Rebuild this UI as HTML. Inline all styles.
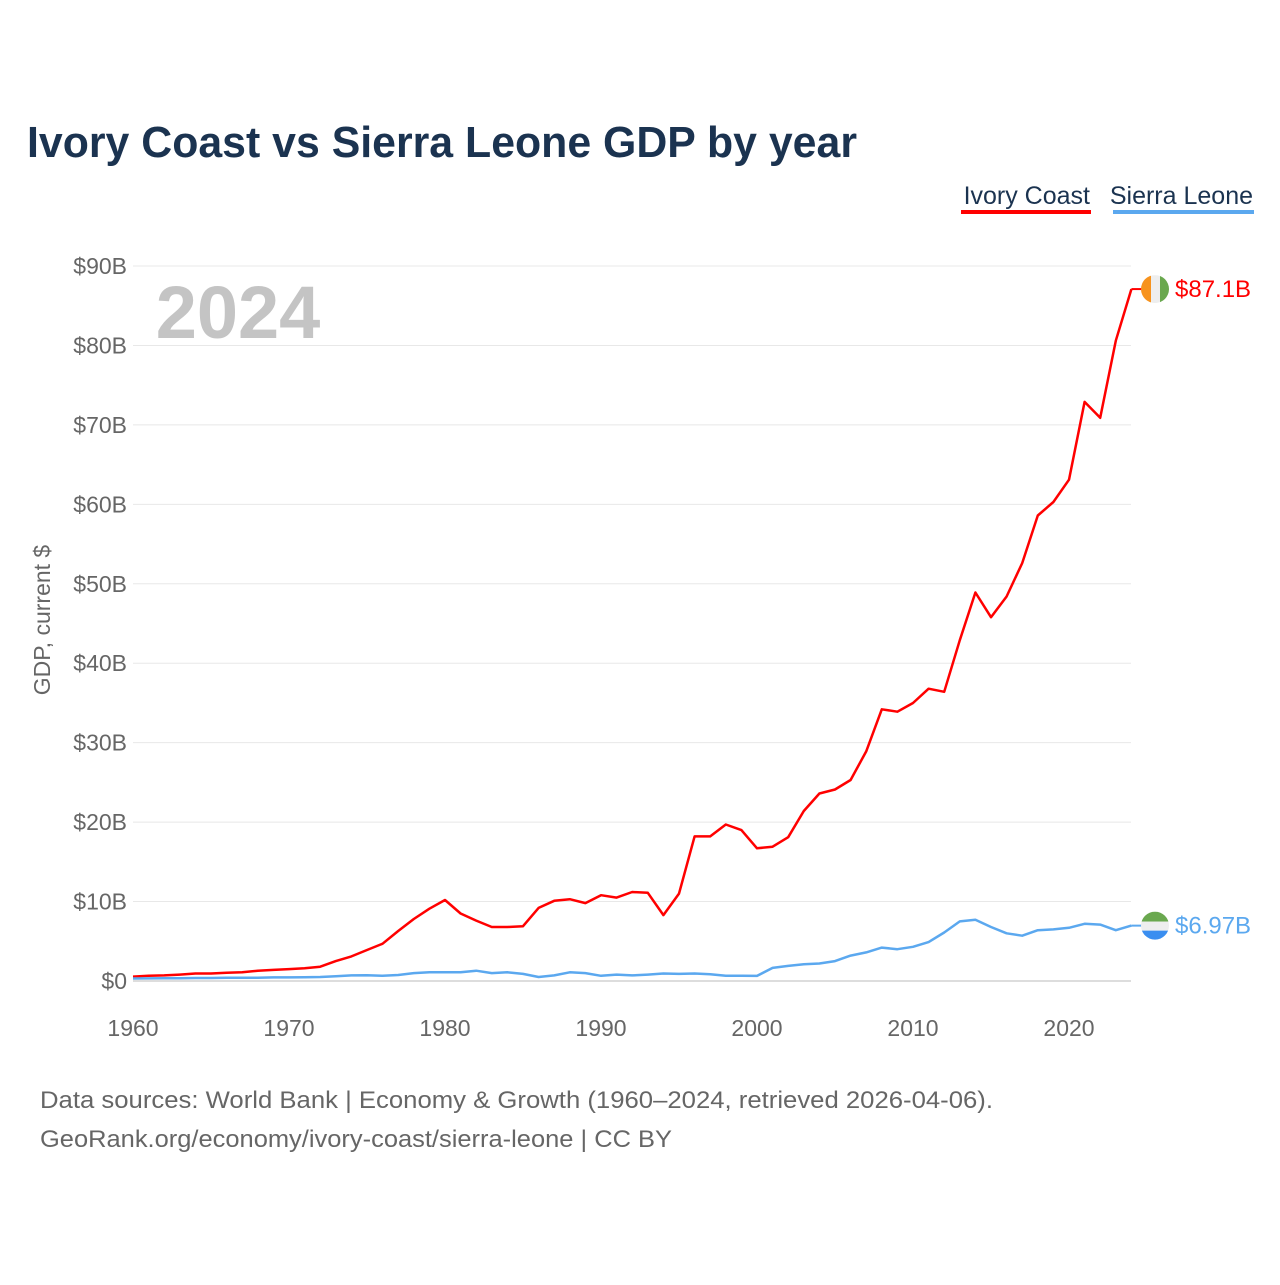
<!DOCTYPE html>
<html><head><meta charset="utf-8"><style>
body{margin:0;background:#fff;}
svg{font-family:"Liberation Sans",sans-serif;}
</style></head><body>
<svg id="chart" width="1280" height="1280">
<rect width="1280" height="1280" fill="#fff"/>
<text x="27" y="157" font-size="44" font-weight="bold" fill="#1b3350" textLength="830" lengthAdjust="spacingAndGlyphs">Ivory Coast vs Sierra Leone GDP by year</text>
<g>
<text x="1090" y="204" font-size="25" fill="#1b3350" text-anchor="end">Ivory Coast</text>
<rect x="961" y="210" width="130" height="4" fill="#ff0000"/>
</g>
<g>
<text x="1253" y="204" font-size="25" fill="#1b3350" text-anchor="end">Sierra Leone</text>
<rect x="1113" y="210" width="141" height="4" fill="#5ba8ef"/>
</g>
<text x="238" y="338" font-size="74" font-weight="bold" fill="#c4c4c4" text-anchor="middle">2024</text>
<text transform="translate(50,620) rotate(-90)" font-size="23" fill="#666" text-anchor="middle">GDP, current $</text>
<g id="grid"></g><g id="xt"></g><g id="lines"></g>
<text x="40" y="1108" font-size="24" fill="#666" textLength="953" lengthAdjust="spacingAndGlyphs">Data sources: World Bank | Economy &amp; Growth (1960–2024, retrieved 2026-04-06).</text>
<text x="40" y="1147" font-size="24" fill="#666" textLength="632" lengthAdjust="spacingAndGlyphs">GeoRank.org/economy/ivory-coast/sierra-leone | CC BY</text>
</svg>
<script>
const startYear = 1960;
const ivoryCoast = [0.55,0.65,0.7,0.8,0.95,0.95,1.05,1.1,1.3,1.4,1.5,1.6,1.8,2.5,3.1,3.9,4.7,6.3,7.8,9.1,10.2,8.5,7.6,6.8,6.8,6.9,9.2,10.1,10.3,9.8,10.8,10.5,11.2,11.1,8.3,11.0,18.2,18.2,19.7,19.0,16.7,16.9,18.1,21.4,23.6,24.1,25.3,28.9,34.2,33.9,35.0,36.8,36.4,42.9,48.9,45.8,48.4,52.6,58.6,60.3,63.1,72.9,70.9,80.6,87.1];
const sierraLeone = [0.32,0.33,0.34,0.35,0.38,0.38,0.4,0.4,0.4,0.45,0.45,0.47,0.5,0.6,0.7,0.72,0.65,0.75,1.0,1.1,1.1,1.1,1.3,1.0,1.1,0.9,0.5,0.7,1.1,1.0,0.65,0.8,0.7,0.8,0.95,0.9,0.95,0.85,0.65,0.65,0.64,1.65,1.9,2.1,2.2,2.5,3.2,3.6,4.2,4.0,4.3,4.9,6.1,7.5,7.7,6.8,6.0,5.7,6.4,6.5,6.7,7.2,7.1,6.4,6.97];
const yTicks = [0,10,20,30,40,50,60,70,80,90];
const yTickLabels = ["$0","$10B","$20B","$30B","$40B","$50B","$60B","$70B","$80B","$90B"];
const xTicks = [1960,1970,1980,1990,2000,2010,2020];
const endLabels = ["$87.1B","$6.97B"];
const NS="http://www.w3.org/2000/svg";
const x = yr => 133 + (yr-1960)*15.6;
const y = v => 981 - v*7.944;
function mk(t,a,p){const e=document.createElementNS(NS,t);for(const k in a)e.setAttribute(k,a[k]);p.appendChild(e);return e;}
const grid=document.getElementById('grid');
yTicks.forEach((v,i)=>{
 const l=mk('line',{x1:133,x2:1131,y1:y(v),y2:y(v),stroke:v===0?'#ddd':'#e8e8e8','stroke-width':v===0?2:1},grid);
 
 
 const t=mk('text',{x:127,y:y(v)+8,'font-size':23,fill:'#666','text-anchor':'end'},grid);
 t.textContent=yTickLabels[i];
 
 
});
const xt=document.getElementById('xt');
xTicks.forEach(v=>{
 const t=mk('text',{x:x(v),y:1036,'font-size':23,fill:'#666','text-anchor':'middle'},xt);
 t.textContent=v;
 
 
});
const lines=document.getElementById('lines');
[[ivoryCoast,'#ff0000','ivory-coast'],[sierraLeone,'#5ba8ef','sierra-leone']].forEach(([d,c,n],k)=>{
 const pts=d.map((v,i)=>x(startYear+i).toFixed(1)+','+y(v).toFixed(1)).join(' ');
 const p=mk('polyline',{points:pts,fill:'none',stroke:c,'stroke-width':2.5,'stroke-linejoin':'round'},lines);
 
 
 const lx=x(startYear+d.length-1), ly=y(d[d.length-1]);
 mk('line',{x1:lx,x2:lx+12,y1:ly,y2:ly,stroke:c,'stroke-width':2},lines);
 const g=mk('g',{},lines);
 
 
 const cx=1155, r=14;
 const clip=mk('clipPath',{id:'c'+k},g); mk('circle',{cx:cx,cy:ly,r:r},clip);
 const cg=mk('g',{'clip-path':'url(#c'+k+')'},g);
 if(k===0){
  mk('rect',{x:cx-r,y:ly-r,width:10,height:2*r,fill:'#f7931e'},cg);
  mk('rect',{x:cx-r+10,y:ly-r,width:9,height:2*r,fill:'#eee'},cg);
  mk('rect',{x:cx-r+19,y:ly-r,width:10,height:2*r,fill:'#6aa84f'},cg);
 } else {
  mk('rect',{x:cx-r,y:ly-r,width:2*r,height:10,fill:'#6aa84f'},cg);
  mk('rect',{x:cx-r,y:ly-r+10,width:2*r,height:9,fill:'#eee'},cg);
  mk('rect',{x:cx-r,y:ly-r+19,width:2*r,height:10,fill:'#3a8ef0'},cg);
 }
 const t=mk('text',{x:1175,y:ly+8,'font-size':24,fill:c},lines);
 t.textContent=endLabels[k];
 
 
});
</script>
</body></html>
